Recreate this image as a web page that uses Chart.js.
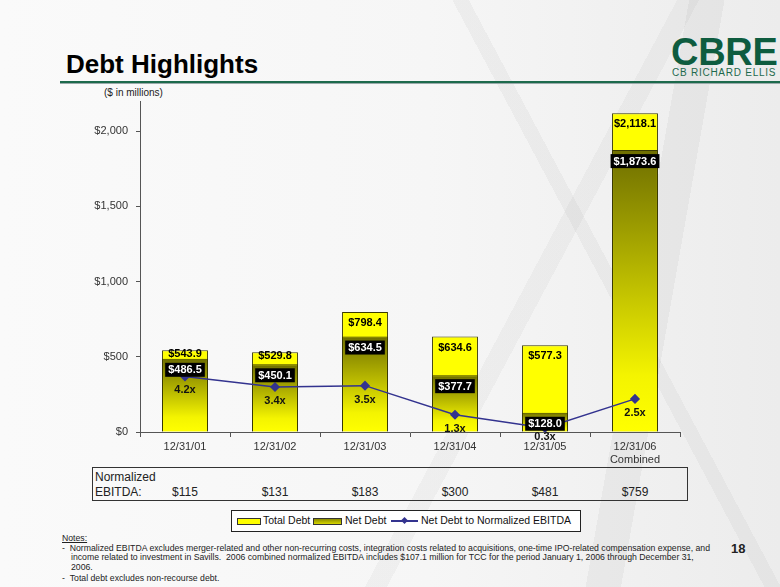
<!DOCTYPE html>
<html>
<head>
<meta charset="utf-8">
<script src="https://cdn.jsdelivr.net/npm/chart.js@4.4.1/dist/chart.umd.min.js"></script>
<style>
   body { margin: 0; }
   #slide {
      position: relative; width: 780px; height: 587px; overflow: hidden;
      font-family: Arial, "Liberation Sans", sans-serif; color: #111;
      background:
         linear-gradient(118deg, transparent 0 62%, rgba(0,0,0,0.03) 62% 64%, transparent 64% 100%),
         linear-gradient(62deg, transparent 0 70%, rgba(0,0,0,0.035) 70% 71.5%, transparent 71.5% 100%),
         linear-gradient(100deg, transparent 0 78%, rgba(0,0,0,0.04) 78% 82%, transparent 82% 100%),
         linear-gradient(90deg, #fafafa 0%, #f6f6f6 55%, #ececec 100%);
   }
   #chart { position: absolute; left: 0; top: 0; }
   .abs { position: absolute; white-space: nowrap; }
   #title { left: 66px; top: 49px; font-size: 26px; font-weight: bold; color: #000; }
   #rule { left: 60px; top: 81px; width: 720px; height: 2px; background: #1d6a4c; box-shadow: 0 1px 0 #9aa; }
   #logo { left: 671px; top: 31px; font-size: 38px; font-weight: bold; color: #0e5c3f; letter-spacing: -0.3px; }
   #logoSub { left: 672px; top: 67px; font-size: 10px; color: #1e6a4d; letter-spacing: 0.75px; }
   #units { left: 104px; top: 87px; font-size: 10px; color: #222; }
   #ebitda { left: 92px; top: 467px; width: 594px; height: 32px; border: 1px solid #333; }
   #ebitda span { position: absolute; font-size: 12px; color: #222; }
   #legend { left: 231px; top: 510px; width: 348px; height: 20px; border: 1px solid #222; background: #fff; font-size: 10.5px; }
   #legend span { position: absolute; }
   #notes { left: 62px; top: 534px; font-size: 8.7px; line-height: 9.6px; color: #222; }
   #notes .n { padding-left: 9px; text-indent: -9px; }
   #page { left: 731px; top: 541px; font-size: 13px; font-weight: bold; color: #222; }
</style>
</head>
<body>
<div id="slide">
   <div id="title" class="abs">Debt Highlights</div>
   <div id="rule" class="abs"></div>
   <div id="logo" class="abs">CBRE</div>
   <div id="logoSub" class="abs">CB RICHARD ELLIS</div>
   <div id="units" class="abs">($ in millions)</div>
   <div id="ebitda" class="abs"></div>
   <div id="legend" class="abs"></div>
   <div id="notes" class="abs">
      <div><u>Notes:</u></div>
      <div class="n">-&nbsp;&nbsp;Normalized EBITDA excludes merger-related and other non-recurring costs, integration costs related to acquisitions, one-time IPO-related compensation expense, and<br>income related to investment in Savills.&nbsp; 2006 combined normalized EBITDA includes $107.1 million for TCC for the period January 1, 2006 through December 31,<br>2006.</div>
      <div class="n" style="margin-top:2px">-&nbsp;&nbsp;Total debt excludes non-recourse debt.</div>
   </div>
   <div id="page" class="abs">18</div>
   <canvas id="chart" width="780" height="587"></canvas>
</div>
<script>
'use strict';

const periods = ['12/31/01', '12/31/02', '12/31/03', '12/31/04', '12/31/05', ['12/31/06', 'Combined']];
const totalDebt = [543.9, 529.8, 798.4, 634.6, 577.3, 2118.1];
const netDebt = [486.5, 450.1, 634.5, 377.7, 128.0, 1873.6];
const debtToEbitda = [4.2, 3.4, 3.5, 1.3, 0.3, 2.5];
const normalizedEbitda = [115, 131, 183, 300, 481, 759];
const yTicks = [0, 500, 1000, 1500, 2000];

const yellow = '#ffff00';
const olive = '#6e6e00';
const lineColor = '#33338f';
const labelFont = 'bold 11px Arial, "Liberation Sans", sans-serif';

function money(v) {
   return '$' + v.toLocaleString('en-US', { minimumFractionDigits: 1, maximumFractionDigits: 1 });
}

function netGradient(c) {
   const chart = c.chart;
   if (!chart.chartArea || c.type !== 'data')
      return olive;
   const y = chart.scales.y;
   const top = y.getPixelForValue(netDebt[c.dataIndex]);
   const bottom = y.getPixelForValue(0);
   const g = chart.ctx.createLinearGradient(0, top, 0, bottom);
   g.addColorStop(0, olive);
   g.addColorStop(0.8, '#f4f400');
   g.addColorStop(1, yellow);
   return g;
}

// value labels: total on yellow, net in black boxes, ratio under the line
const barLabels = {
   id: 'barLabels',
   afterDatasetsDraw(chart) {
      const ctx = chart.ctx;
      const total = chart.getDatasetMeta(0).data;
      const net = chart.getDatasetMeta(1).data;
      const ratio = chart.getDatasetMeta(2).data;
      ctx.save();
      ctx.font = labelFont;
      ctx.textAlign = 'center';
      ctx.textBaseline = 'middle';
      total.forEach(function (bar, i) {
         let y = bar.y + 11;
         if (net[i].y + 11 - y < 16)
            y = bar.y + 4;
         ctx.fillStyle = '#000';
         ctx.fillText(money(totalDebt[i]), bar.x, y);
      });
      net.forEach(function (bar, i) {
         const txt = money(netDebt[i]);
         const y = bar.y + 11;
         const w = ctx.measureText(txt).width + 6;
         ctx.fillStyle = '#000';
         ctx.fillRect(bar.x - w / 2, y - 7, w, 14);
         ctx.fillStyle = '#fff';
         ctx.fillText(txt, bar.x, y + 0.5);
      });
      ratio.forEach(function (pt, i) {
         ctx.fillStyle = '#111';
         ctx.fillText(debtToEbitda[i].toFixed(1) + 'x', pt.x, Math.min(pt.y + 14, 437));
      });
      ctx.restore();
   }
};

const chart = new Chart(document.getElementById('chart'), {
   type: 'bar',
   data: {
      labels: periods,
      datasets: [{
         label: 'Total Debt',
         data: totalDebt,
         backgroundColor: yellow,
         borderColor: '#3a3a00',
         borderWidth: 1,
         order: 3
      }, {
         label: 'Net Debt',
         data: netDebt,
         backgroundColor: netGradient,
         borderColor: '#3a3a00',
         borderWidth: 1,
         order: 2
      }, {
         type: 'line',
         label: 'Net Debt to Normalized EBITDA',
         data: debtToEbitda,
         yAxisID: 'y2',
         borderColor: lineColor,
         backgroundColor: lineColor,
         borderWidth: 1.5,
         pointStyle: 'rectRot',
         pointRadius: 4,
         tension: 0,
         order: 1
      }]
   },
   options: {
      responsive: false,
      animation: false,
      layout: { padding: { left: 80, top: 101, right: 100, bottom: 115 } },
      datasets: {
         bar: { categoryPercentage: 1, barPercentage: 0.51 }
      },
      scales: {
         x: {
            stacked: true,
            afterFit: function (axis) { axis.height = 40; },
            grid: { drawOnChartArea: false, offset: true, tickLength: 5, color: '#555' },
            border: { color: '#555', width: 1 },
            ticks: { color: '#333', font: { size: 11, family: 'Arial, "Liberation Sans"' }, padding: 3, maxRotation: 0, autoSkip: false }
         },
         y: {
            stacked: false,
            min: 0,
            max: 2200,
            afterFit: function (axis) { axis.width = 60; },
            afterBuildTicks: function (axis) {
               axis.ticks = yTicks.map(function (v) { return { value: v }; });
            },
            grid: { drawOnChartArea: false, tickLength: 4, color: '#555' },
            border: { color: '#555', width: 1 },
            ticks: {
               autoSkip: false,
               padding: 8,
               color: '#333',
               font: { size: 11, family: 'Arial, "Liberation Sans"' },
               callback: function (v) { return '$' + v.toLocaleString('en-US'); }
            }
         },
         y2: { display: false, min: 0, max: 25 }
      },
      plugins: {
         legend: { display: false },
         tooltip: { enabled: false }
      }
   },
   plugins: [barLabels]
});

// normalized EBITDA row, aligned to the category centers
(function () {
   const box = document.getElementById('ebitda');
   const left = 93;
   let html = '<span style="left:2px;top:2px">Normalized</span><span style="left:2px;top:17px">EBITDA:</span>';
   normalizedEbitda.forEach(function (v, i) {
      const cx = chart.scales.x.getPixelForValue(i) - left;
      html += '<span style="left:' + (cx - 20) + 'px;width:40px;text-align:center;top:17px">$' + v + '</span>';
   });
   box.innerHTML = html;
})();

// legend from the datasets
(function () {
   const legend = document.getElementById('legend');
   const swatches = [
      '<span style="left:5px;top:7px;width:22px;height:5px;border:1px solid #333;background:' + yellow + '"></span>',
      '<span style="left:81px;top:7px;width:27px;height:5px;border:1px solid #333;background:linear-gradient(#8a8a00,#d8d800)"></span>',
      '<span style="left:159px;top:9px;width:27px;height:1.5px;background:' + lineColor + '"></span>' +
      '<span style="left:170px;top:7px;width:5px;height:5px;background:' + lineColor + ';transform:rotate(45deg)"></span>'
   ];
   const textLefts = [31, 113, 189];
   let html = '';
   chart.data.datasets.forEach(function (ds, i) {
      html += swatches[i] + '<span style="left:' + textLefts[i] + 'px;top:3px">' + ds.label + '</span>';
   });
   legend.innerHTML = html;
})();
</script>
</body>
</html>
